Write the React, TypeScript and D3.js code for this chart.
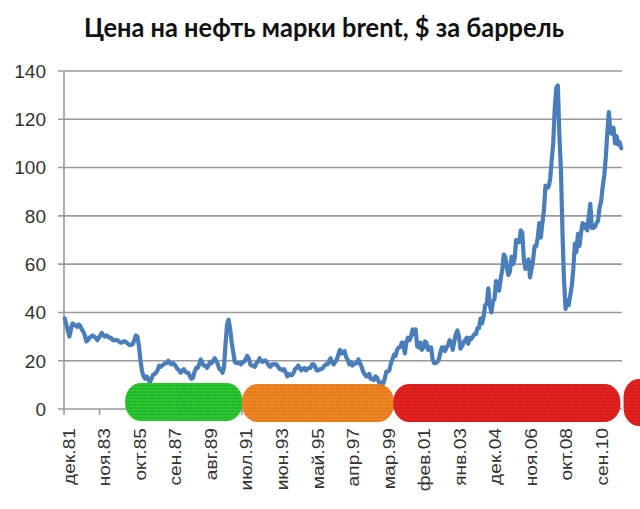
import React from "react";
import * as d3 from "d3";

const title = "Цена на нефть марки brent, $ за баррель";
const monthNames = ["янв", "фев", "мар", "апр", "май", "июн", "июл", "авг", "сен", "окт", "ноя", "дек"];
const firstYear = 1981;
const firstMonth = 11; // декабрь
const yTicks = [0, 20, 40, 60, 80, 100, 120, 140];
const labelStep = 23;

const p1981 = [37.5];
const p1982 = [35, 32.5, 30, 33, 35.5, 35, 34.5, 34, 35, 34.5, 33, 32];
const p1983 = [30.5, 28, 28.5, 29.5, 30, 30.5, 30, 29.5, 28.5, 29.5, 30.5, 31.5];
const p1984 = [30.5, 30, 30.5, 30, 29.5, 29.5, 28.5, 28.5, 28.5, 28.5, 28, 27.5];
const p1985 = [27.5, 28, 28, 27.5, 27, 26.5, 26.5, 27, 28.5, 30.5, 30, 26];
const p1986 = [20, 15.5, 13.5, 12.5, 13.5, 12.5, 11, 12.5, 14, 14.5, 15, 16];
const p1987 = [18, 17.5, 18, 18.5, 19, 19, 20, 19, 18.5, 19, 18.5, 17.5];
const p1988 = [16.5, 16, 15, 16, 16.5, 15.5, 15, 15, 13.5, 12.5, 13, 15.5];
const p1989 = [17, 17, 18.5, 20.5, 19, 18, 18, 17, 18, 19.5, 19, 20];
const p1990 = [21, 20, 18.5, 16.5, 16.5, 15, 17, 27, 35, 37, 33, 27.5];
const p1991 = [23.5, 19.5, 19, 19, 19, 18.5, 19.5, 19.5, 20.5, 22, 21, 18.5];
const p1992 = [18, 18, 17.5, 19, 19.5, 21, 20, 19.5, 20, 20, 19, 18];
const p1993 = [17.5, 18.5, 18.5, 18.5, 18.5, 17.5, 16.5, 16.5, 16, 16.5, 15, 13.5];
const p1994 = [14.5, 14, 14, 15, 16.5, 17, 18, 17, 16, 16.5, 17, 16];
const p1995 = [16.5, 17, 17, 18.5, 18.5, 17.5, 16, 16, 16.5, 16.5, 17, 18];
const p1996 = [18.5, 18.5, 20, 21, 19, 18.5, 19.5, 20.5, 22.5, 24.5, 23, 23.5];
const p1997 = [24, 21.5, 20.5, 18.5, 19.5, 18, 18.5, 19, 19, 20.5, 19, 17.5];
const p1998 = [15.5, 14.5, 13.5, 13.5, 14.5, 12.5, 12.5, 12, 13.5, 13, 11.5, 10];
const p1999 = [11, 10.5, 12.5, 15.5, 15.5, 16, 19, 20.5, 22.5, 22, 24.5, 25.5];
const p2000 = [25.5, 27.5, 27.5, 23, 27.5, 29.5, 28.5, 30, 33, 31, 33, 26];
const p2001 = [25.5, 27.5, 24.5, 25.5, 28, 27.5, 24.5, 25.5, 25.5, 20.5, 19, 19];
const p2002 = [19.5, 20.5, 23.5, 25.5, 25.5, 24, 25.5, 26.5, 28.5, 27.5, 24.5, 28];
const p2003 = [31, 32.5, 30, 25, 26, 27.5, 28.5, 29.5, 27, 29.5, 29, 30];
const p2004 = [31, 31, 33.5, 33.5, 37.5, 35.5, 38.5, 43, 43.5, 50, 43, 40];
const p2005 = [44.5, 45.5, 53, 52, 49, 54, 57.5, 64, 63, 58.5, 55.5, 57];
const p2006 = [63, 60, 62, 70, 70, 69, 74, 73, 62, 58, 59, 62];
const p2007 = [54.5, 58, 62, 67.5, 67.5, 71, 77, 71, 77, 82.5, 92.5, 91.5];
const p2008 = [92, 95, 103, 110, 124.5, 133, 134, 113, 99, 73, 53, 41.5];
const p2009 = [45, 43, 47, 51, 58, 68.5, 65, 72.5, 67.5, 73, 77, 75];
const p2010 = [76.5, 74, 79.5, 85, 75, 75, 75.5, 77, 78, 83.5, 86, 92];
const p2011 = [96.5, 104, 114.5, 123, 114.5, 114, 116.5, 110, 113, 109.5, 110.5, 108];

const prices: number[] = [
  ...p1981, ...p1982, ...p1983, ...p1984, ...p1985, ...p1986, ...p1987, ...p1988,
  ...p1989, ...p1990, ...p1991, ...p1992, ...p1993, ...p1994, ...p1995, ...p1996,
  ...p1997, ...p1998, ...p1999, ...p2000, ...p2001, ...p2002, ...p2003, ...p2004,
  ...p2005, ...p2006, ...p2007, ...p2008, ...p2009, ...p2010, ...p2011,
];

const categories = prices.map((_, i) => {
  const m = (firstMonth + i) % 12;
  const yr = firstYear + Math.floor((firstMonth + i) / 12);
  return `${monthNames[m]}.${String(yr % 100).padStart(2, "0")}`;
});

// hand-drawn period markers (in month indices)
const periodStarts = [39.5, 115, 213, 362];
const periodEnds = [115.5, 213.5, 360, 382];
const periodColors = ["#2dc932", "#f08624", "#e42320", "#e42320"];
const periodLines = ["#169a1e", "#cf6a12", "#b81414", "#b81414"];

export default function App() {
  const W = 640, H = 509;
  const x0 = 64, x1 = 622, yTop = 71, yBot = 409;
  const N = prices.length;
  const x = d3.scaleLinear().domain([0, N]).range([x0, x1]);
  const y = d3.scaleLinear().domain([0, 140]).range([yBot, yTop]);
  const line = d3
    .line<number>()
    .x((_, i) => x(i + 0.5))
    .y((d) => y(d));

  const tickIdx = d3.range(0, N, labelStep);
  const bandTop = [383, 384, 384, 379];
  const bandBot = [421, 422, 422, 426];

  return (
    <svg width={W} height={H} style={{ position: "absolute", left: 0, top: 0, background: "#fff" }}>
      <defs>
        {periodColors.map((c, i) => (
          <pattern key={i} id={`tex${i}`} width="7" height="3.2" patternUnits="userSpaceOnUse">
            <rect width="7" height="3.2" fill={c} />
            <path d="M0 1.6 Q1.75 0.9 3.5 1.6 T7 1.6" stroke={periodLines[i]} strokeWidth="0.9" fill="none" opacity="0.7" />
          </pattern>
        ))}
      </defs>
      <rect width={W} height={H} fill="#fff" />
      <text
        x={324}
        y={37}
        textAnchor="middle"
        fontFamily="Lato, 'Open Sans', sans-serif"
        fontWeight="bold"
        fontSize={26}
        fill="#111"
        textLength={480}
        lengthAdjust="spacingAndGlyphs"
      >
        {title}
      </text>
      {yTicks.map((t) => (
        <g key={t}>
          <line x1={x0 - 6} x2={x1} y1={y(t)} y2={y(t)} stroke="#9a9a9a" strokeWidth={1.6} />
          <text
            x={46}
            y={y(t)}
            dy="0.36em"
            textAnchor="end"
            fontFamily="'Liberation Sans', Arial, sans-serif"
            fontSize={19}
            fill="#333"
          >
            {t}
          </text>
        </g>
      ))}
      <line x1={x0} x2={x0} y1={yTop} y2={yBot} stroke="#9a9a9a" strokeWidth={1.6} />
      {tickIdx.map((i) => (
        <line key={i} x1={x(i)} x2={x(i)} y1={yBot} y2={yBot + 6} stroke="#9a9a9a" strokeWidth={1.6} />
      ))}
      {tickIdx.map((i) => (
        <text
          key={"l" + i}
          transform={`translate(${x(i + 0.5) + 4.5},${428}) rotate(-90) scale(1.2,1)`}
          textAnchor="end"
          dominantBaseline="central"
          fontFamily="'Liberation Sans', Arial, sans-serif"
          fontSize={16}
          fill="#333"
        >
          {categories[i]}
        </text>
      ))}
      <path d={line(prices) || ""} fill="none" stroke="#4a7ebb" strokeWidth={4.2} strokeLinejoin="round" strokeLinecap="round" />
      {periodStarts.map((s, i) => (
        <rect
          key={"b" + i}
          x={x(s)}
          y={bandTop[i]}
          width={x(periodEnds[i]) - x(s)}
          height={bandBot[i] - bandTop[i]}
          rx={16}
          ry={18}
          fill={`url(#tex${i})`}
        />
      ))}
    </svg>
  );
}
